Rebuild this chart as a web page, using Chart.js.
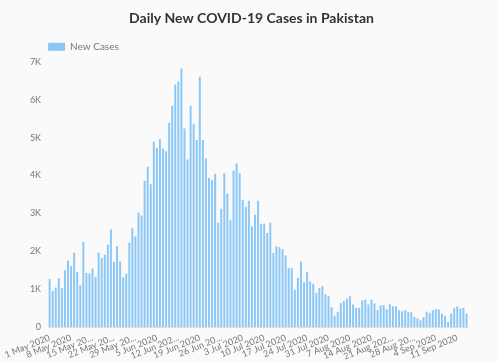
<!DOCTYPE html>
<html>
<head>
<meta charset="utf-8">
<script src="https://cdn.jsdelivr.net/npm/chart.js@4"></script>
<style>
    html, body { margin: 0; padding: 0; background: #fafafa; }
    #wrap { width: 498px; height: 362px; }
</style>
</head>
<body>
<div id="wrap"><canvas id="cases"></canvas></div>
<script>
// Daily new cases, 1 May 2020 .. 14 Sep 2020
const startDate = new Date(2020, 4, 1);
const newCases = [
    1270, 955, 1050, 1290, 1025, 1500, 1755, 1610, 1965, 1455,
    1110, 2245, 1430, 1420, 1550, 1325, 1965, 1825, 1910, 2175,
    2580, 1720, 2140, 1735, 1315, 1410, 2225, 2610, 2395, 3025,
    2945, 3865, 4235, 3770, 4890, 4735, 4960, 4710, 4640, 5390,
    5840, 6400, 6480, 6825, 5240, 4425, 5840, 5350, 4935, 6605,
    4935, 4450, 3935, 3885, 4045, 2755, 3125, 4060, 3525, 2820,
    4130, 4315, 4060, 3365, 3180, 3335, 2655, 2965, 3335, 2730,
    2730, 2485, 2755, 1960, 2130, 2110, 2065, 1890, 1560, 1560,
    990, 1305, 1735, 1185, 1465, 1205, 1145, 900, 1035, 1080,
    865, 815, 530, 300, 405, 630, 690, 760, 815, 600,
    515, 515, 710, 730, 600, 730, 630, 455, 580, 580,
    475, 605, 550, 550, 445, 420, 445, 405, 395, 270,
    230, 185, 265, 405, 385, 445, 475, 465, 360, 305,
    140, 360, 500, 545, 490, 505, 360
];
// weekly tick labels as they appear (some are cut short)
const tickLabels = [
    '1 May 2020', '8 May 2020', '15 May 20...', '22 May 20...', '29 May 20...',
    '5 Jun 2020', '12 Jun 202...', '19 Jun 2020', '26 Jun 20...', '3 Jul 2020',
    '10 Jul 2020', '17 Jul 2020', '24 Jul 2020', '31 Jul 2020', '7 Aug 2020',
    '14 Aug 2020', '21 Aug 202...', '28 Aug 20...', '4 Sep 2020', '11 Sep 2020'
];
const yTicks = [0, 1000, 2000, 3000, 4000, 5000, 6000, 7000];

const months = ['Jan', 'Feb', 'Mar', 'Apr', 'May', 'Jun', 'Jul', 'Aug', 'Sep', 'Oct', 'Nov', 'Dec'];
const categories = newCases.map(function (v, i) {
    const d = new Date(startDate.getFullYear(), startDate.getMonth(), startDate.getDate() + i);
    return d.getDate() + ' ' + months[d.getMonth()] + ' ' + d.getFullYear();
});

const font = 'Lato, "Noto Sans", sans-serif';

new Chart(document.getElementById('cases'), {
    type: 'bar',
    data: {
        labels: categories,
        datasets: [{
            label: 'New Cases',
            data: newCases,
            backgroundColor: 'rgba(100, 181, 246, 0.75)',
            borderWidth: 0,
            categoryPercentage: 0.8,
            barPercentage: 0.8
        }]
    },
    options: {
        responsive: true,
        maintainAspectRatio: false,
        animation: false,
        layout: { padding: { left: 5, right: 0, top: 0, bottom: -5 } },
        plugins: {
            title: {
                display: true,
                text: 'Daily New COVID-19 Cases in Pakistan',
                color: '#333',
                font: { family: font, size: 14, weight: 'bold' },
                padding: { top: 10, bottom: 15 }
            },
            legend: {
                align: 'start',
                fullSize: false,
                labels: {
                    boxWidth: 17,
                    boxHeight: 8,
                    padding: 0,
                    color: '#777',
                    font: { family: font, size: 10 }
                }
            },
            tooltip: { enabled: false }
        },
        scales: {
            x: {
                grid: { display: false, drawTicks: false },
                border: { display: true, color: '#e0e0e0' },
                ticks: {
                    autoSkip: false,
                    minRotation: 22,
                    maxRotation: 22,
                    padding: 5,
                    color: '#777',
                    font: { family: font, size: 9 },
                    callback: function (val, i) {
                        return i % 7 === 0 ? tickLabels[i / 7] : '';
                    }
                }
            },
            y: {
                min: 0,
                max: 7000,
                grid: { display: false, drawTicks: false },
                border: { display: false },
                afterFit: function (axis) { axis.width = 42; },
                afterBuildTicks: function (axis) {
                    axis.ticks = yTicks.map(function (v) { return { value: v }; });
                },
                ticks: {
                    padding: 7,
                    color: '#777',
                    font: { family: font, size: 9 },
                    callback: function (v) {
                        return v === 0 ? '0' : (v / 1000) + 'K';
                    }
                }
            },
            // empty right-hand gutter
            yRight: {
                position: 'right',
                display: true,
                grid: { display: false, drawTicks: false },
                border: { display: false },
                ticks: { display: false },
                afterFit: function (axis) { axis.width = 30; }
            }
        }
    }
});
</script>
</body>
</html>
